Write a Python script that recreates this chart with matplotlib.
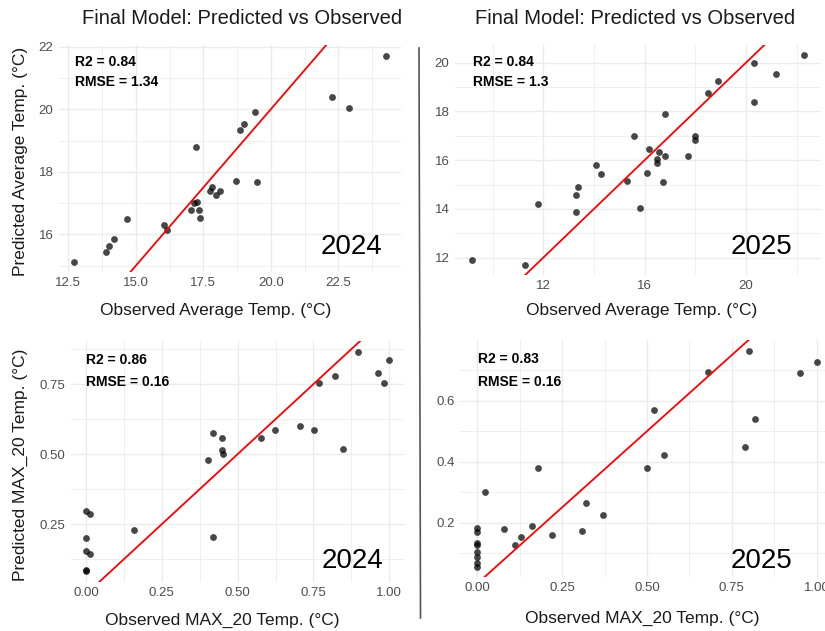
import matplotlib
matplotlib.use("Agg")
import matplotlib.pyplot as plt
import numpy as np
from matplotlib.lines import Line2D

plt.rcParams['font.family'] = ['Liberation Sans', 'DejaVu Sans']

# ---------------- data ----------------
obs_avg_2024 = [12.73, 13.90, 14.02, 14.20, 14.66, 16.04, 16.17, 17.04, 17.17, 17.28,
                17.33, 17.36, 17.22, 17.75, 17.83, 17.96, 18.12, 18.71, 18.86, 19.00,
                19.43, 19.49, 22.25, 22.88, 24.25]
pred_avg_2024 = [15.13, 15.44, 15.62, 15.85, 16.49, 16.31, 16.15, 16.77, 17.02, 17.05,
                 16.77, 16.53, 18.79, 17.39, 17.53, 17.26, 17.40, 17.71, 19.33, 19.54,
                 19.91, 17.66, 20.38, 20.05, 21.71]

obs_avg_2025 = [9.17, 11.29, 11.80, 13.29, 13.38, 13.29, 14.09, 14.29, 15.29, 15.58,
                15.80, 16.09, 16.18, 16.49, 16.49, 16.58, 16.71, 16.80, 16.80, 17.71,
                18.00, 18.00, 18.49, 18.91, 20.30, 20.30, 21.20, 22.30]
pred_avg_2025 = [11.89, 11.71, 14.20, 14.57, 14.89, 13.87, 15.82, 15.43, 15.13, 17.01,
                 14.05, 15.49, 16.46, 16.04, 15.90, 16.35, 15.11, 16.18, 17.90, 16.18,
                 16.98, 16.84, 18.76, 19.25, 18.37, 20.00, 19.55, 20.30]

obs_max_2024 = [0.0, 0.013, 0.0, 0.0, 0.013, 0.0, 0.0, 0.157, 0.403, 0.418,
                0.418, 0.449, 0.449, 0.453, 0.577, 0.623, 0.707, 0.753, 0.769, 0.822,
                0.846, 0.898, 0.962, 0.981, 1.0]
pred_max_2024 = [0.296, 0.285, 0.199, 0.155, 0.143, 0.086, 0.082, 0.231, 0.480, 0.576,
                 0.203, 0.557, 0.514, 0.501, 0.557, 0.586, 0.600, 0.586, 0.755, 0.780,
                 0.517, 0.864, 0.789, 0.753, 0.835]

obs_max_2025 = [0.0, 0.0, 0.0, 0.0, 0.0, 0.0, 0.0, 0.0, 0.022, 0.079,
                0.111, 0.129, 0.160, 0.180, 0.220, 0.309, 0.319, 0.370, 0.499, 0.521,
                0.550, 0.679, 0.789, 0.800, 0.819, 0.950, 1.0]
pred_max_2025 = [0.184, 0.169, 0.132, 0.125, 0.103, 0.087, 0.069, 0.056, 0.300, 0.178,
                 0.125, 0.154, 0.189, 0.379, 0.160, 0.173, 0.264, 0.224, 0.379, 0.569,
                 0.423, 0.695, 0.449, 0.765, 0.540, 0.691, 0.728]

titles = ["Final Model: Predicted vs Observed", "Final Model: Predicted vs Observed"]
xlabels = ["Observed Average Temp. (°C)", "Observed Average Temp. (°C)",
           "Observed MAX_20 Temp. (°C)", "Observed MAX_20 Temp. (°C)"]
ylabels = ["Predicted Average Temp. (°C)", "Predicted MAX_20 Temp. (°C)"]
r2_labels = ["R2 = 0.84", "R2 = 0.84", "R2 = 0.86", "R2 = 0.83"]
rmse_labels = ["RMSE = 1.34", "RMSE = 1.3", "RMSE = 0.16", "RMSE = 0.16"]
years = ["2024", "2025", "2024", "2025"]

xmajor = [[12.5, 15.0, 17.5, 20.0, 22.5], [12, 16, 20],
          [0.0, 0.25, 0.5, 0.75, 1.0], [0.0, 0.25, 0.5, 0.75, 1.0]]
xmajor_lbl = [["12.5", "15.0", "17.5", "20.0", "22.5"], ["12", "16", "20"],
              ["0.00", "0.25", "0.50", "0.75", "1.00"], ["0.00", "0.25", "0.50", "0.75", "1.00"]]
ymajor = [[16, 18, 20, 22], [12, 14, 16, 18, 20], [0.25, 0.5, 0.75], [0.2, 0.4, 0.6]]
ymajor_lbl = [["16", "18", "20", "22"], ["12", "14", "16", "18", "20"],
              ["0.25", "0.50", "0.75"], ["0.2", "0.4", "0.6"]]

# ---------------- layout (pixels) ----------------
W, H = 825, 631
fig = plt.figure(figsize=(W / 100, H / 100), dpi=100)
fig.patch.set_facecolor("white")

panels = [(58.9, 401.2, 45.4, 272.0),
          (454.9, 820.9, 44.9, 275.2),
          (70.8, 404.5, 341.2, 582.2),
          (460.3, 833.6, 339.7, 577.3)]

series = [(obs_avg_2024, pred_avg_2024), (obs_avg_2025, pred_avg_2025),
          (obs_max_2024, pred_max_2024), (obs_max_2025, pred_max_2025)]


def fx(x):
    return x / W


def fy(y):
    return 1 - y / H


def expand(v):
    lo, hi = min(v), max(v)
    d = (hi - lo) * 0.05
    return lo - d, hi + d


def minors(maj, lim):
    step = maj[1] - maj[0]
    out = []
    m = maj[0] - step / 2
    while m <= lim[1]:
        if m >= lim[0]:
            out.append(m)
        m += step
    return out


grid_c = "#EBEBEB"
for i, ((x0, x1, y0, y1), (ox, py)) in enumerate(zip(panels, series)):
    ax = fig.add_axes([fx(x0), fy(y1), (x1 - x0) / W, (y1 - y0) / H])
    xl = expand(ox)
    yl = expand(py)
    ax.set_xlim(xl)
    ax.set_ylim(yl)
    for s in ax.spines.values():
        s.set_visible(False)
    ax.set_xticks(xmajor[i])
    ax.set_xticklabels(xmajor_lbl[i])
    ax.set_yticks(ymajor[i])
    ax.set_yticklabels(ymajor_lbl[i])
    ax.set_xticks(minors(xmajor[i], xl), minor=True)
    ax.set_yticks(minors(ymajor[i], yl), minor=True)
    ax.tick_params(which="both", length=0)
    ax.tick_params(axis="x", pad=3.5, labelsize=9.5, labelcolor="#4D4D4D")
    ax.tick_params(axis="y", pad=4, labelsize=9.5, labelcolor="#4D4D4D")
    ax.grid(which="major", color=grid_c, linewidth=1.0)
    ax.grid(which="minor", color=grid_c, linewidth=0.55)
    ax.set_axisbelow(True)
    ax.scatter(ox, py, s=24, color="black", alpha=0.72, linewidths=0, zorder=3)
    ax.axline((0, 0), slope=1, color="red", linewidth=1.3, zorder=4)

# titles
fig.text(fx(241.7), fy(19), titles[0], ha="center", va="center", fontsize=14.5, color="#1A1A1A")
fig.text(fx(635), fy(19), titles[1], ha="center", va="center", fontsize=14.5, color="#1A1A1A")

# x labels
xl_pos = [(215.8, 310), (641.3, 310), (222.5, 620), (642, 618)]
for (x, y), t in zip(xl_pos, xlabels):
    fig.text(fx(x), fy(y), t, ha="center", va="center", fontsize=12.5, color="#1A1A1A")

# y labels
yl_pos = [(20.5, 161), (20, 464.5)]
for (x, y), t in zip(yl_pos, ylabels):
    fig.text(fx(x), fy(y), t, ha="center", va="center", rotation=90, fontsize=12.5, color="#1A1A1A")

# annotations
ann_pos = [(75, 62.3, 82.3), (472.7, 62.3, 82.3), (86, 360, 382.3), (478.3, 359.3, 381.7)]
for (x, ya, yb), a, b in zip(ann_pos, r2_labels, rmse_labels):
    fig.text(fx(x), fy(ya), a, ha="left", va="center", fontsize=10, fontweight="bold", color="black")
    fig.text(fx(x), fy(yb), b, ha="left", va="center", fontsize=10, fontweight="bold", color="black")

# year labels
yr_pos = [(382.3, 246.7), (792.3, 246.7), (383.3, 560.7), (792.3, 560.7)]
for (x, y), t in zip(yr_pos, years):
    fig.text(fx(x), fy(y), t, ha="right", va="center", fontsize=20, color="black")

# divider line
fig.add_artist(Line2D([fx(419), fx(420.5)], [fy(48), fy(618)], color="#555555", linewidth=1.2))

fig.savefig("out.png", dpi=100, facecolor="white")
